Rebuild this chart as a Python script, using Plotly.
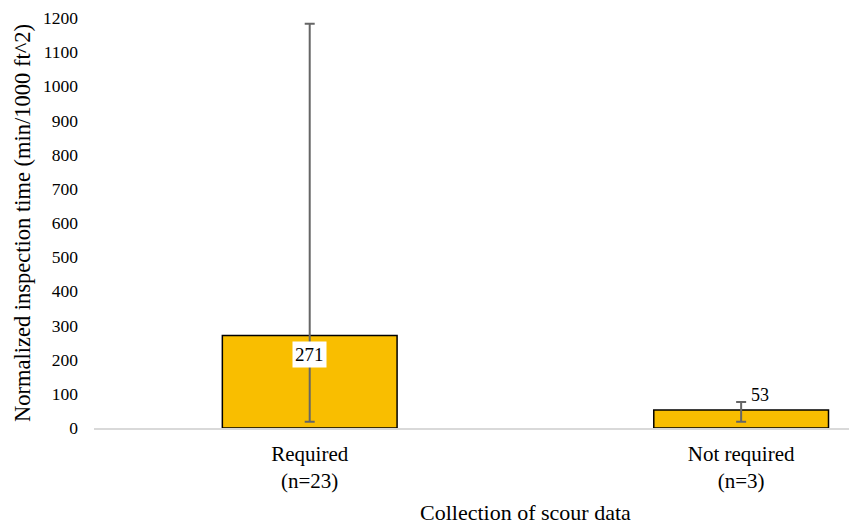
import plotly.graph_objects as go

categories = ["Required<br>(n=23)", "Not required<br>(n=3)"]
means = [271, 53]
err_plus = [912, 23]
err_minus = [253, 35]
labels = ["271", "53"]
y_ticks = [0, 100, 200, 300, 400, 500, 600, 700, 800, 900, 1000, 1100, 1200]

FONT = "Liberation Serif"

fig = go.Figure()
fig.add_trace(go.Bar(
    x=[0, 1], y=means, width=0.405,
    marker=dict(color="#F9BE00", line=dict(color="#000000", width=1.5)),
    error_y=dict(type="data", symmetric=False, array=err_plus, arrayminus=err_minus,
                 color="#666666", thickness=2, width=5),
))

fig.add_annotation(x=0, y=means[0], xref="x", yref="y", text=labels[0], showarrow=False,
                   yanchor="top", yshift=-6, bgcolor="white", borderpad=2,
                   font=dict(family=FONT, size=19, color="black"))
fig.add_annotation(x=1, y=means[1], xref="x", yref="y", text=labels[1], showarrow=False,
                   yanchor="bottom", xshift=19, yshift=3,
                   font=dict(family=FONT, size=18, color="black"))
fig.add_annotation(x=(525 - 94) / 755, y=-(512 - 428) / 410, xref="paper", yref="paper",
                   text="Collection of scour data", showarrow=False,
                   xanchor="center", yanchor="middle",
                   font=dict(family=FONT, size=22, color="black"))
fig.add_annotation(x=(22 - 94) / 755, y=0.5, xref="paper", yref="paper",
                   text="Normalized inspection time (min/1000 ft^2)", showarrow=False,
                   textangle=-90, xanchor="center", yanchor="middle",
                   font=dict(family=FONT, size=22.5, color="black"))

fig.update_layout(
    width=849, height=525,
    margin=dict(l=94, r=0, t=18, b=97),
    paper_bgcolor="white", plot_bgcolor="white",
    showlegend=False,
    font=dict(family=FONT, color="black"),
    xaxis=dict(range=[-0.5, 1.25], tickvals=[0, 1], ticktext=categories,
               showline=True, linecolor="#D9D9D9", linewidth=1.5, showgrid=False,
               zeroline=False, ticks="", tickfont=dict(family=FONT, size=21),
               ticklabelstandoff=6, automargin=False),
    yaxis=dict(range=[0, 1200], tickvals=y_ticks, showgrid=False, zeroline=False,
               showline=False, ticks="", tickfont=dict(family=FONT, size=17.5),
               ticklabelstandoff=15, automargin=False),
)

fig.write_html("out.html", config={"displayModeBar": False},
               post_script="document.body.style.margin='0';")
